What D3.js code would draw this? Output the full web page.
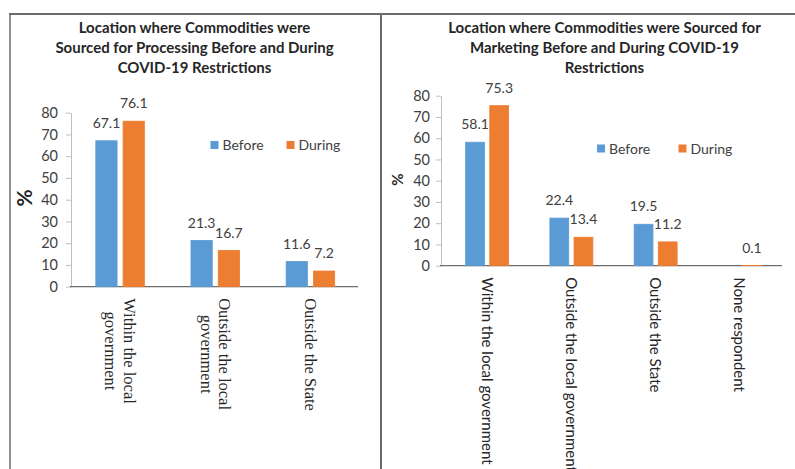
<!DOCTYPE html>
<html>
<head>
<meta charset="utf-8">
<script src="https://cdn.jsdelivr.net/npm/d3@7"></script>
<style>
  html, body { margin: 0; padding: 0; background: #ffffff; }
  svg { display: block; }
</style>
</head>
<body>
<svg id="chart" width="795" height="469"></svg>
<script>
// ---- Data ----
const seriesNames = ["Before", "During"];
const seriesColors = ["#5B9BD5", "#ED7D31"];
const yTicks = [0, 10, 20, 30, 40, 50, 60, 70, 80];

// Processing panel
const processingTitle = [
  "Location where Commodities were",
  "Sourced for Processing Before and During",
  "COVID-19 Restrictions"
];
const processingCategories = [
  ["Within the local", "government"],
  ["Outside the local", "government"],
  ["Outside the State"]
];
const processingBefore = [67.1, 21.3, 11.6];
const processingDuring = [76.1, 16.7, 7.2];

// Marketing panel
const marketingTitle = [
  "Location where Commodities were Sourced for",
  "Marketing Before and During COVID-19",
  "Restrictions"
];
const marketingCategories = [
  ["Within the local government"],
  ["Outside the local government"],
  ["Outside the State"],
  ["None respondent"]
];
const marketingBefore = [58.1, 22.4, 19.5, null];
const marketingDuring = [75.3, 13.4, 11.2, 0.1];

// ---- Drawing ----
const svg = d3.select("#chart");
const SANS = "Lato, 'Open Sans', sans-serif";

// Frame lines around the two panels
const frame = svg.append("g").attr("stroke", "#6b6b6b").attr("fill", "none");
frame.append("line").attr("x1", 9).attr("x2", 795).attr("y1", 14).attr("y2", 14).attr("stroke-width", 2);
frame.append("line").attr("x1", 10).attr("x2", 10).attr("y1", 13).attr("y2", 469).attr("stroke-width", 1.5);
frame.append("line").attr("x1", 381).attr("x2", 381).attr("y1", 13).attr("y2", 469).attr("stroke-width", 2);

function drawPanel(cfg) {
  const g = svg.append("g");

  // title
  const title = g.append("text")
    .attr("text-anchor", "middle")
    .attr("font-family", SANS)
    .attr("font-weight", "bold")
    .attr("font-size", cfg.titleSize)
    .attr("fill", "#262626");
  cfg.title.forEach((line, i) => {
    title.append("tspan").attr("x", cfg.titleX).attr("y", cfg.titleY + i * 20).text(line);
  });

  const rows = cfg.categories.map((c, i) => ({
    key: c.join(" "),
    lines: c,
    values: [cfg.before[i], cfg.during[i]]
  }));

  const x0 = d3.scaleBand()
    .domain(rows.map(r => r.key))
    .range(cfg.xRange)
    .paddingInner(0.49)
    .paddingOuter(0.245);
  const x1 = d3.scaleBand()
    .domain(seriesNames)
    .range([0, x0.bandwidth()])
    .paddingInner(0.22);
  const y = d3.scaleLinear().domain([0, 80]).range(cfg.yRange);

  // y axis
  const yAxis = g.append("g")
    .attr("transform", `translate(${cfg.axisX},0)`)
    .call(d3.axisLeft(y).tickValues(yTicks).tickSize(5).tickSizeOuter(0).tickPadding(cfg.tickPad));
  yAxis.select(".domain").attr("stroke", "#bfbfbf");
  yAxis.selectAll(".tick line").attr("stroke", "#bfbfbf");
  yAxis.selectAll(".tick text")
    .attr("font-family", SANS)
    .attr("font-size", 14.5)
    .attr("fill", "#404040");

  // x axis baseline (under the bars)
  g.append("line")
    .attr("x1", cfg.axisX - 1).attr("x2", cfg.xRange[1])
    .attr("y1", y(0)).attr("y2", y(0))
    .attr("stroke", "#6e6e6e").attr("stroke-width", 1.2);

  // bars (thin same-colour outline keeps very small values visible)
  const groups = g.selectAll(".grp").data(rows).join("g")
    .attr("transform", d => `translate(${x0(d.key)},0)`);
  groups.selectAll("rect")
    .data(d => d.values.map((v, i) => ({ v, s: seriesNames[i], c: seriesColors[i] })).filter(e => e.v != null))
    .join("rect")
    .attr("x", e => x1(e.s))
    .attr("width", x1.bandwidth())
    .attr("y", e => y(e.v))
    .attr("height", e => y(0) - y(e.v))
    .attr("fill", e => e.c)
    .attr("stroke", e => e.c)
    .attr("stroke-width", 0.8);

  // value labels
  groups.selectAll("text.val")
    .data(d => d.values.map((v, i) => ({ v, s: seriesNames[i] })).filter(e => e.v != null))
    .join("text")
    .attr("class", "val")
    .attr("x", e => x1(e.s) + x1.bandwidth() / 2)
    .attr("y", e => y(e.v) - 12.8)
    .attr("text-anchor", "middle")
    .attr("font-family", SANS)
    .attr("font-size", 14)
    .attr("fill", "#404040")
    .text(e => d3.format(".1f")(e.v));

  // category labels, rotated to read top-to-bottom
  rows.forEach(r => {
    const cx = x0(r.key) + x0.bandwidth() / 2;
    const lg = g.append("g").attr("transform", `translate(${cx},${y(0) + cfg.catGap}) rotate(90)`);
    const n = r.lines.length;
    const texts = r.lines.map((line, i) => lg.append("text")
      .attr("y", (i - (n - 1) / 2) * cfg.catLine + cfg.catShift)
      .attr("font-family", cfg.catFont)
      .attr("font-size", cfg.catSize)
      .attr("fill", "#262626")
      .text(line));
    const maxLen = d3.max(texts, t => t.node().getComputedTextLength());
    texts.forEach(t => t.attr("text-anchor", "middle").attr("x", maxLen / 2));
  });

  // y-axis title
  g.append("text")
    .attr("transform", `translate(${cfg.pctX},${cfg.pctY}) rotate(-90)`)
    .attr("text-anchor", "middle")
    .attr("font-family", SANS)
    .attr("font-weight", "bold")
    .attr("font-size", cfg.pctSize)
    .attr("fill", "#262626")
    .text("%");

  // legend
  seriesNames.forEach((name, i) => {
    const lx = cfg.legendX[i];
    g.append("rect")
      .attr("x", lx).attr("y", cfg.legendY - 4)
      .attr("width", 8).attr("height", 8)
      .attr("fill", seriesColors[i]);
    g.append("text")
      .attr("x", lx + 12).attr("y", cfg.legendY + 5)
      .attr("font-family", SANS)
      .attr("font-size", 14)
      .attr("fill", "#404040")
      .text(name);
  });
}

drawPanel({
  title: processingTitle, titleX: 194.5, titleY: 32.5, titleSize: 15,
  categories: processingCategories, before: processingBefore, during: processingDuring,
  xRange: [72.5, 358], yRange: [286.7, 112.7], axisX: 71, tickPad: 8,
  catGap: 11.5, catLine: 18.5, catShift: 5.5, catFont: "'Liberation Serif', serif", catSize: 16.5,
  pctX: 32, pctY: 198, pctSize: 21,
  legendX: [210.5, 286.5], legendY: 145
});

drawPanel({
  title: marketingTitle, titleX: 604.5, titleY: 32.5, titleSize: 15,
  categories: marketingCategories, before: marketingBefore, during: marketingDuring,
  xRange: [445, 782], yRange: [265.7, 95.7], axisX: 441, tickPad: 6,
  catGap: 11.5, catLine: 18, catShift: 5.5, catFont: SANS, catSize: 15,
  pctX: 403, pctY: 179.5, pctSize: 15,
  legendX: [597, 678.5], legendY: 148.5
});
</script>
</body>
</html>
